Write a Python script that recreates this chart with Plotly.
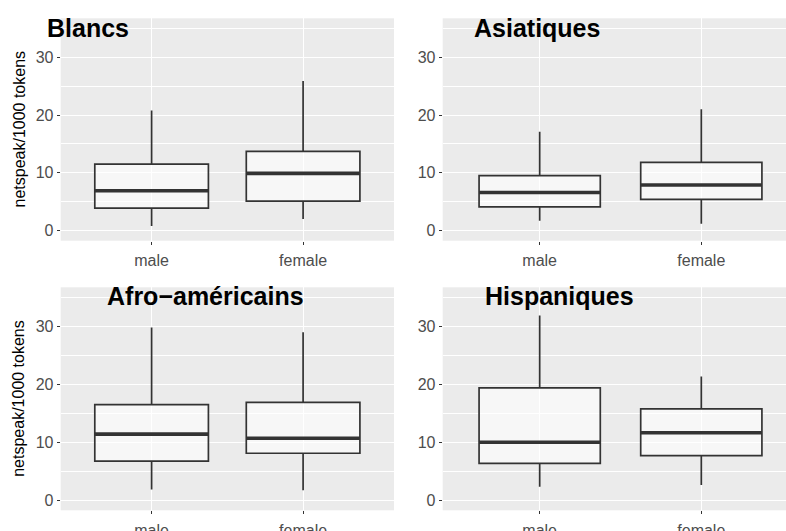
import plotly.graph_objects as go

# ---------------- data ----------------
groups = ["Blancs", "Asiatiques", "Afro\u2212américains", "Hispaniques"]
genders = ["male", "female"]
gender_pos = [1, 2]

# per group: [male, female]
lower_whisker = {
    "Blancs": [0.8, 2.0],
    "Asiatiques": [1.7, 1.2],
    "Afro\u2212américains": [1.85, 1.7],
    "Hispaniques": [2.3, 2.6],
}
q1_vals = {
    "Blancs": [3.9, 5.1],
    "Asiatiques": [4.1, 5.4],
    "Afro\u2212américains": [6.75, 8.1],
    "Hispaniques": [6.35, 7.7],
}
median_vals = {
    "Blancs": [6.9, 9.9],
    "Asiatiques": [6.6, 7.9],
    "Afro\u2212américains": [11.4, 10.7],
    "Hispaniques": [10.0, 11.65],
}
q3_vals = {
    "Blancs": [11.5, 13.7],
    "Asiatiques": [9.5, 11.8],
    "Afro\u2212américains": [16.5, 16.9],
    "Hispaniques": [19.4, 15.75],
}
upper_whisker = {
    "Blancs": [20.8, 25.9],
    "Asiatiques": [17.1, 21.0],
    "Afro\u2212américains": [29.8, 29.0],
    "Hispaniques": [31.9, 21.35],
}
y_ticks = [0, 10, 20, 30]
y_minor = [5, 15, 25, 35]
y_title = "netspeak/1000 tokens"

# ---------------- layout geometry ----------------
W, H = 786, 531
BOX_W = 0.75
LINE_C = "#333333"

def px_x(p):
    return p / W

def px_y(p):
    return 1 - p / H

x_domains = [[px_x(60.7), px_x(394)], [px_x(442.7), 1.0],
             [px_x(60.7), px_x(394)], [px_x(442.7), 1.0]]
y_domains = [[px_y(240.7), px_y(18.3)], [px_y(240.7), px_y(18.3)],
             [px_y(510.3), px_y(287.3)], [px_y(510.3), px_y(287.3)]]
x_ranges = [[0.4, 2.6], [0.4, 2.524], [0.4, 2.6], [0.4, 2.524]]
y_range = [-1.75, 36.75]

title_pos = [(45, 28), (471.7, 28), (105, 296), (483, 296)]

fig = go.Figure()
layout = dict(
    width=W, height=H,
    margin=dict(l=0, r=0, t=0, b=0, autoexpand=False),
    paper_bgcolor="white",
    plot_bgcolor="#EBEBEB",
    showlegend=False,
    font=dict(family="Liberation Sans, Arial, sans-serif"),
    annotations=[],
)

for i, g in enumerate(groups):
    xa = "x" if i == 0 else f"x{i+1}"
    ya = "y" if i == 0 else f"y{i+1}"
    fig.add_trace(go.Box(
        x=gender_pos,
        q1=q1_vals[g], median=median_vals[g], q3=q3_vals[g],
        lowerfence=lower_whisker[g], upperfence=upper_whisker[g],
        width=BOX_W, whiskerwidth=0,
        fillcolor="rgba(255,255,255,0.6)",
        line=dict(color=LINE_C, width=1.7),
        boxpoints=False,
        xaxis=xa, yaxis=ya, hoverinfo="skip",
    ))
    # thicker median segments (ggplot style)
    for p, m in zip(gender_pos, median_vals[g]):
        fig.add_trace(go.Scatter(
            x=[p - BOX_W / 2, p + BOX_W / 2], y=[m, m],
            mode="lines", line=dict(color=LINE_C, width=3.6),
            xaxis=xa, yaxis=ya, hoverinfo="skip",
        ))

    xkey = "xaxis" if i == 0 else f"xaxis{i+1}"
    ykey = "yaxis" if i == 0 else f"yaxis{i+1}"
    layout[xkey] = dict(
        domain=x_domains[i], range=x_ranges[i], anchor=ya,
        tickvals=gender_pos, ticktext=genders,
        showgrid=True, gridcolor="white", gridwidth=1.2,
        zeroline=False, showline=False, automargin=False,
        ticks="outside", ticklen=3, tickwidth=1, tickcolor=LINE_C,
        tickfont=dict(size=16, color="#4D4D4D"),
        ticklabelstandoff=2,
        fixedrange=True,
    )
    layout[ykey] = dict(
        domain=y_domains[i], range=y_range, anchor=xa,
        tickvals=y_ticks,
        showgrid=True, gridcolor="white", gridwidth=1.2,
        minor=dict(tickvals=y_minor, showgrid=True, gridcolor="white",
                   gridwidth=0.6, ticks=""),
        zeroline=False, showline=False, automargin=False,
        ticks="outside", ticklen=3, tickwidth=1, tickcolor=LINE_C,
        tickfont=dict(size=16, color="#4D4D4D"),
        fixedrange=True,
    )
    tx, ty = title_pos[i]
    layout["annotations"].append(dict(
        text=f"<b>{g}</b>", xref="paper", yref="paper",
        x=px_x(tx), y=px_y(ty), xanchor="left", yanchor="middle",
        showarrow=False, font=dict(size=25, color="black"),
    ))

for cy in [129.5, 398.8]:
    layout["annotations"].append(dict(
        text=y_title, xref="paper", yref="paper",
        x=px_x(19), y=px_y(cy), xanchor="center", yanchor="middle",
        textangle=-90, showarrow=False, font=dict(size=16, color="black"),
    ))

fig.update_layout(**layout)
fig.write_html(
    "out.html",
    config={"displayModeBar": False},
    post_script="document.body.style.margin='0';document.body.style.overflow='hidden';",
)
